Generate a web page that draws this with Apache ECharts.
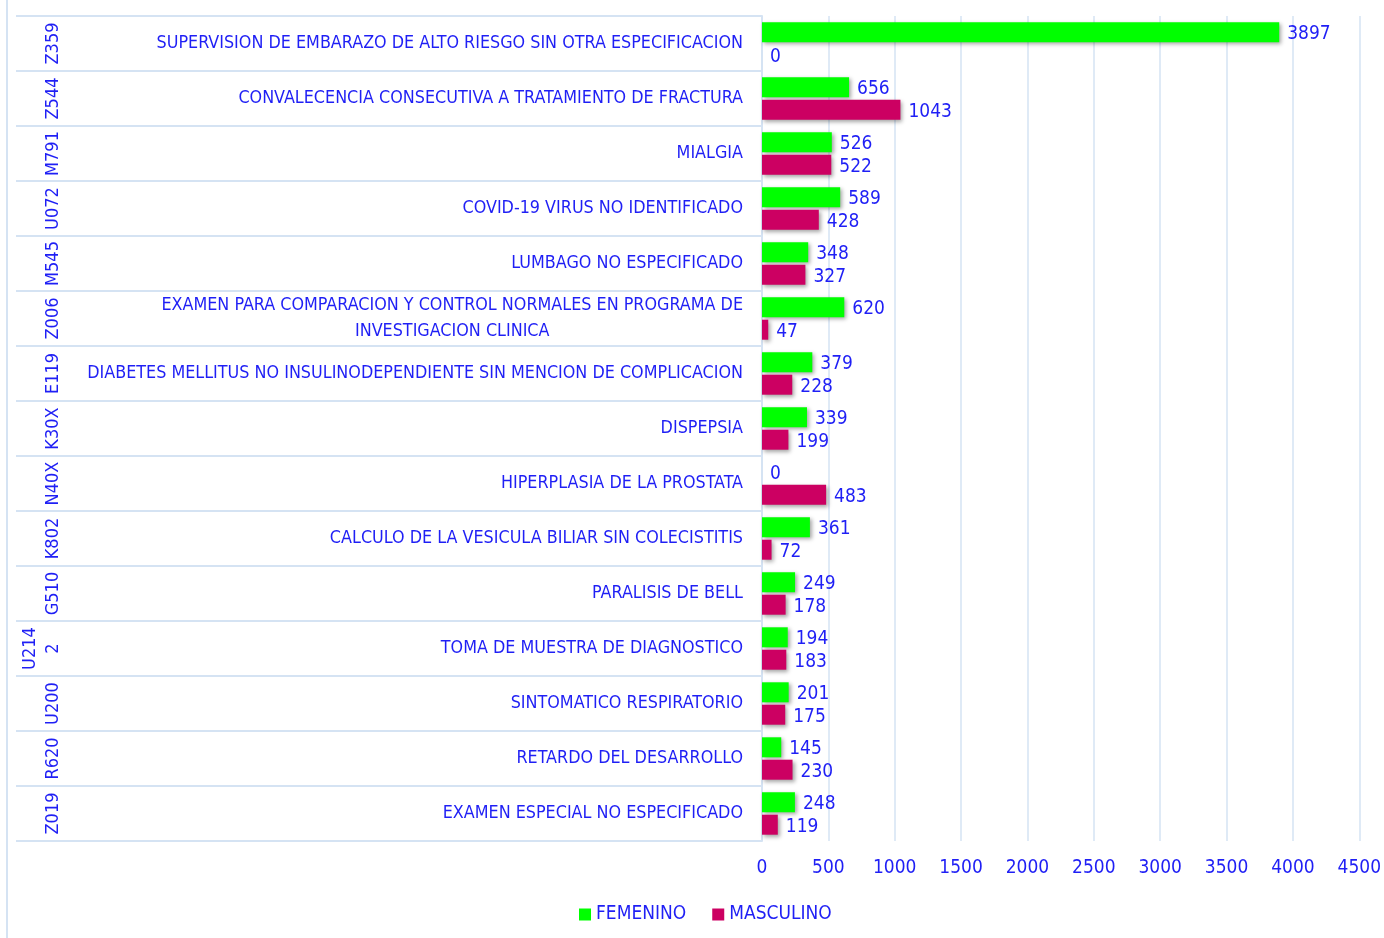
<!DOCTYPE html>
<html>
<head>
    <meta charset="utf-8">
    <title>Diagnosticos por sexo</title>
    <script src="https://cdn.jsdelivr.net/npm/echarts@6/dist/echarts.min.js"></script>
    <style type="text/css">
    html, body { margin: 0; padding: 0; background: #fff; }
    #main { width: 1384px; height: 938px; }
    </style>
</head>
<body>
    <div id="main"></div>
    <script>
        var codes = ['Z359', 'Z544', 'M791', 'U072', 'M545', 'Z006', 'E119', 'K30X', 'N40X', 'K802', 'G510', 'U2142', 'U200', 'R620', 'Z019'];
        var descripciones = [
            'SUPERVISION DE EMBARAZO DE ALTO RIESGO SIN OTRA ESPECIFICACION',
            'CONVALECENCIA CONSECUTIVA A TRATAMIENTO DE FRACTURA',
            'MIALGIA',
            'COVID-19 VIRUS NO IDENTIFICADO',
            'LUMBAGO NO ESPECIFICADO',
            'EXAMEN PARA COMPARACION Y CONTROL NORMALES EN PROGRAMA DE\nINVESTIGACION CLINICA',
            'DIABETES MELLITUS NO INSULINODEPENDIENTE SIN MENCION DE COMPLICACION',
            'DISPEPSIA',
            'HIPERPLASIA DE LA PROSTATA',
            'CALCULO DE LA VESICULA BILIAR SIN COLECISTITIS',
            'PARALISIS DE BELL',
            'TOMA DE MUESTRA DE DIAGNOSTICO',
            'SINTOMATICO RESPIRATORIO',
            'RETARDO DEL DESARROLLO',
            'EXAMEN ESPECIAL NO ESPECIFICADO'
        ];
        var femenino = [3897, 656, 526, 589, 348, 620, 379, 339, 0, 361, 249, 194, 201, 145, 248];
        var masculino = [0, 1043, 522, 428, 327, 47, 228, 199, 483, 72, 178, 183, 175, 230, 119];

        var azul = '#1f1ff5';
        var lineaClara = '#d5e3f3';
        var fuente = "'Liberation Sans Narrow', 'DejaVu Sans Condensed', sans-serif";

        var chart = echarts.init(document.getElementById('main'));

        var sombra = {
            shadowColor: 'rgba(0,0,0,0.35)',
            shadowBlur: 4,
            shadowOffsetX: 2,
            shadowOffsetY: 2
        };

        var option = {
            backgroundColor: '#fff',
            textStyle: { fontFamily: fuente },
            graphic: [{
                type: 'line',
                shape: { x1: 7, y1: 0, x2: 7, y2: 938 },
                style: { stroke: lineaClara, lineWidth: 2 }
            }],
            legend: {
                bottom: 9,
                left: 574,
                icon: 'rect',
                itemWidth: 12,
                itemHeight: 12,
                itemGap: 26,
                textStyle: { color: azul, fontSize: 19, fontFamily: fuente },
                data: ['FEMENINO', 'MASCULINO']
            },
            grid: [
                { left: 16, right: 622, top: 16, bottom: 97 },
                { left: 762, right: 22, top: 16, bottom: 97 }
            ],
            xAxis: [
                { gridIndex: 0, type: 'value', show: false, min: 0, max: 1 },
                {
                    gridIndex: 1,
                    type: 'value',
                    min: 0,
                    max: 4500,
                    interval: 500,
                    axisLine: { show: false },
                    axisTick: { show: false },
                    axisLabel: {
                        color: azul, fontSize: 19, fontFamily: fuente, margin: 18,
                        formatter: function (v) { return String(v); }
                    },
                    splitLine: { show: true, lineStyle: { color: lineaClara, width: 1.5 } }
                }
            ],
            yAxis: [
                {
                    gridIndex: 0,
                    type: 'category',
                    inverse: true,
                    position: 'right',
                    data: descripciones,
                    axisLine: { show: false },
                    axisTick: { show: false },
                    splitLine: { show: true, lineStyle: { color: lineaClara, width: 2 } },
                    axisLabel: {
                        inside: true,
                        margin: 19,
                        interval: 0,
                        formatter: function (v) {
                            return v.split('\n').map(function (l) { return '{d|' + l + '}'; }).join('\n');
                        },
                        rich: {
                            d: { color: azul, fontSize: 17.8, fontFamily: fuente, lineHeight: 26, align: 'center' }
                        }
                    }
                },
                {
                    gridIndex: 0,
                    type: 'category',
                    inverse: true,
                    position: 'left',
                    offset: -62,
                    data: codes,
                    axisLine: { show: false },
                    axisTick: { show: false },
                    axisLabel: {
                        rotate: 90,
                        margin: 13,
                        interval: 0,
                        color: azul,
                        fontSize: 18,
                        fontFamily: fuente,
                        lineHeight: 23,
                        formatter: function (v) {
                            return v.length > 4 ? v.slice(0, 4) + '\n' + v.slice(4) : v;
                        }
                    }
                },
                {
                    gridIndex: 1,
                    type: 'category',
                    inverse: true,
                    data: codes,
                    axisLine: { show: true, lineStyle: { color: lineaClara, width: 2 } },
                    axisTick: { show: false },
                    axisLabel: { show: false }
                }
            ],
            series: [
                {
                    name: 'FEMENINO',
                    type: 'bar',
                    xAxisIndex: 1,
                    yAxisIndex: 2,
                    data: femenino,
                    barWidth: 20,
                    barGap: '12%',
                    itemStyle: Object.assign({ color: '#00ff00' }, sombra),
                    label: { show: true, position: 'right', distance: 8, color: azul, fontSize: 19, fontFamily: fuente, offset: [0, 2] }
                },
                {
                    name: 'MASCULINO',
                    type: 'bar',
                    xAxisIndex: 1,
                    yAxisIndex: 2,
                    data: masculino,
                    barWidth: 20,
                    barGap: '12%',
                    itemStyle: Object.assign({ color: '#cc0062' }, sombra),
                    label: { show: true, position: 'right', distance: 8, color: azul, fontSize: 19, fontFamily: fuente, offset: [0, 2] }
                }
            ]
        };

        chart.setOption(option);
    </script>
</body>
</html>
